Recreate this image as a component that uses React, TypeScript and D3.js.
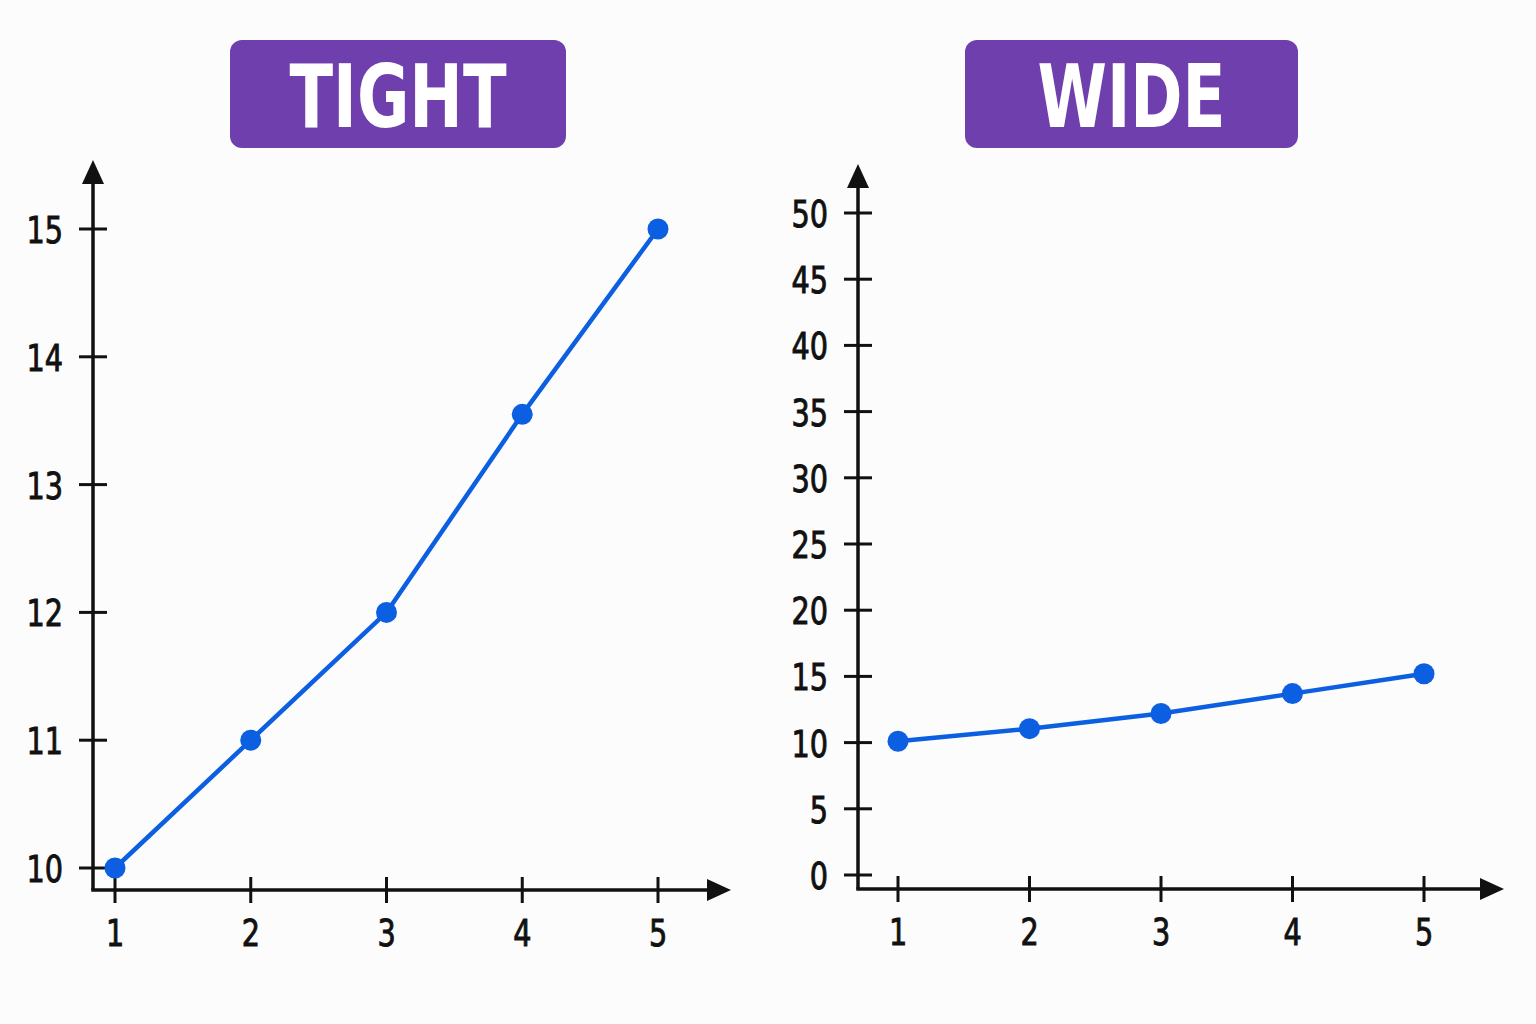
import React from 'react';
import * as d3 from 'd3';

// x positions shared by both panels
const xValues = [1, 2, 3, 4, 5];

// values
const tightValues = [10, 11, 12, 13.55, 15];
const wideValues = [10.1, 11.05, 12.2, 13.7, 15.2];

const tightTicks = [10, 11, 12, 13, 14, 15];
const wideTicks = [0, 5, 10, 15, 20, 25, 30, 35, 40, 45, 50];

const titles = ['TIGHT', 'WIDE'];

const FONT = '"DejaVu Sans Condensed", "DejaVu Sans", sans-serif';
const LINE = '#0b5fe0';
const PURPLE = '#6e3fad';

interface PanelProps {
  title: string;
  titleWidth: number;
  values: number[];
  ticks: number[];
  yDomain: [number, number];
  yRange: [number, number];
  xRange: [number, number];
  axisX: number;
  axisY: number;
  axisTop: number;
  axisRight: number;
  box: { x: number; y: number; w: number; h: number };
}

// narrow, slightly heavy label like the reference
const Label: React.FC<{ x: number; y: number; anchor: string; children: React.ReactNode }> = ({ x, y, anchor, children }) => (
  <text
    transform={`translate(${x},${y}) scale(0.84,1)`}
    textAnchor={anchor}
    fontFamily={FONT}
    fontSize={38}
    fill="#111"
    stroke="#111"
    strokeWidth={0.9}
  >
    {children}
  </text>
);

const Panel: React.FC<PanelProps> = ({
  title, titleWidth, values, ticks, yDomain, yRange, xRange, axisX, axisY, axisTop, axisRight, box,
}) => {
  const xScale = d3.scaleLinear().domain([1, 5]).range(xRange);
  const yScale = d3.scaleLinear().domain(yDomain).range(yRange);

  const points = xValues.map((x, i) => [xScale(x), yScale(values[i])] as [number, number]);
  const line = d3.line()(points) ?? '';

  return (
    <g>
      {/* title badge */}
      <rect x={box.x} y={box.y} width={box.w} height={box.h} rx={12} fill={PURPLE} />
      <text
        x={box.x + box.w / 2}
        y={box.y + 87}
        textAnchor="middle"
        fill="#fff"
        fontFamily={FONT}
        fontWeight="bold"
        fontSize={88}
        textLength={titleWidth}
        lengthAdjust="spacingAndGlyphs"
      >
        {title}
      </text>

      {/* axes */}
      <line x1={axisX} y1={axisY} x2={axisX} y2={axisTop + 18} stroke="#111" strokeWidth={3.5} />
      <path d={`M${axisX},${axisTop} L${axisX - 11},${axisTop + 24} L${axisX + 11},${axisTop + 24} Z`} fill="#111" />
      <line x1={axisX - 1.75} y1={axisY} x2={axisRight - 18} y2={axisY} stroke="#111" strokeWidth={3.5} />
      <path d={`M${axisRight},${axisY} L${axisRight - 24},${axisY - 11} L${axisRight - 24},${axisY + 11} Z`} fill="#111" />

      {/* y ticks */}
      {ticks.map(t => (
        <g key={`y${t}`}>
          <line x1={axisX - 14} x2={axisX + 14} y1={yScale(t)} y2={yScale(t)} stroke="#111" strokeWidth={3} />
          <Label x={axisX - 30} y={yScale(t) + 14} anchor="end">{t}</Label>
        </g>
      ))}

      {/* x ticks */}
      {xValues.map(v => (
        <g key={`x${v}`}>
          <line x1={xScale(v)} x2={xScale(v)} y1={axisY - 13} y2={axisY + 13} stroke="#111" strokeWidth={3} />
          <Label x={xScale(v)} y={axisY + 56} anchor="middle">{v}</Label>
        </g>
      ))}

      {/* series */}
      <path d={line} fill="none" stroke={LINE} strokeWidth={4.5} strokeLinejoin="round" />
      {points.map((p, i) => (
        <circle key={i} cx={p[0]} cy={p[1]} r={10.5} fill={LINE} />
      ))}
    </g>
  );
};

export default function App() {
  return (
    <svg
      width={1536}
      height={1024}
      style={{ position: 'absolute', left: 0, top: 0, background: '#fcfcfc' }}
    >
      <Panel
        title={titles[0]}
        titleWidth={217}
        values={tightValues}
        ticks={tightTicks}
        yDomain={[10, 15]}
        yRange={[868, 229]}
        xRange={[115, 658]}
        axisX={93}
        axisY={890}
        axisTop={160}
        axisRight={731}
        box={{ x: 230, y: 40, w: 336, h: 108 }}
      />
      <Panel
        title={titles[1]}
        titleWidth={188}
        values={wideValues}
        ticks={wideTicks}
        yDomain={[0, 50]}
        yRange={[875, 213]}
        xRange={[898, 1424]}
        axisX={858}
        axisY={889}
        axisTop={164}
        axisRight={1504}
        box={{ x: 965, y: 40, w: 333, h: 108 }}
      />
    </svg>
  );
}
